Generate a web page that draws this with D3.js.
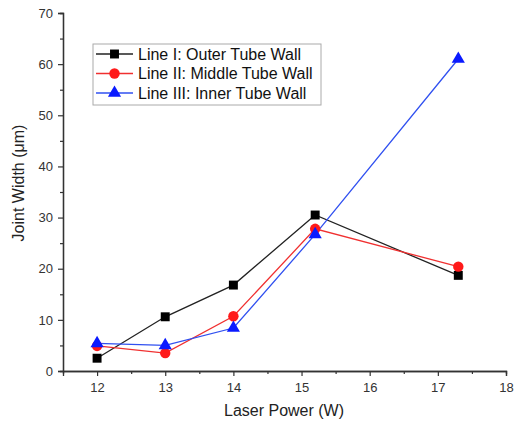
<!DOCTYPE html>
<html><head><meta charset="utf-8">
<script src="https://cdn.jsdelivr.net/npm/d3@7"></script>
<style>body{margin:0;background:#fff}svg{display:block}text{font-family:"Liberation Sans",Arial,sans-serif}</style>
</head><body>
<script>
const laserPower = [12, 13, 14, 15.2, 17.3];
const outerWall = [2.5, 10.6, 16.8, 30.5, 18.7];
const middleWall = [4.9, 3.5, 10.7, 27.8, 20.4];
const innerWall = [5.4, 5.0, 8.4, 26.7, 61.0];
const seriesNames = ["Line I: Outer Tube Wall", "Line II: Middle Tube Wall", "Line III: Inner Tube Wall"];
const xTicks = [12, 13, 14, 15, 16, 17, 18];
const yTicks = [0, 10, 20, 30, 40, 50, 60, 70];

const W = 514, H = 427;
const svg = d3.select("body").append("svg").attr("width", W).attr("height", H);
const x = d3.scaleLinear().domain([11.5, 18]).range([63, 506]);
const y = d3.scaleLinear().domain([0, 70]).range([371, 13]);

const axisColor = "#333";
// X axis
const gx = svg.append("g").attr("transform", `translate(0,${y(0)})`);
gx.call(d3.axisBottom(x).tickValues(d3.range(12.5, 18, 1)).tickSize(3).tickFormat(""));
gx.call(g => g.append("g").call(d3.axisBottom(x).tickValues(xTicks).tickSize(5).tickPadding(7).tickFormat(d3.format("d"))));
gx.selectAll("path.domain").attr("stroke", axisColor).attr("stroke-width", 1.3);
gx.selectAll("line").attr("stroke", axisColor).attr("stroke-width", 1.2);
gx.selectAll("text").attr("font-size", 13).attr("fill", "#333");
// Y axis
const gy = svg.append("g").attr("transform", `translate(${x(11.5)},0)`);
gy.call(d3.axisLeft(y).tickValues(d3.range(5, 70, 10)).tickSize(3).tickFormat(""));
gy.call(g => g.append("g").call(d3.axisLeft(y).tickValues(yTicks).tickSize(5).tickPadding(5).tickFormat(d3.format("d"))));
gy.selectAll("path.domain").attr("stroke", axisColor).attr("stroke-width", 1.3);
gy.selectAll("line").attr("stroke", axisColor).attr("stroke-width", 1.2);
gy.selectAll("text").attr("font-size", 13).attr("fill", "#333");

// Titles
svg.append("text").attr("x", 284).attr("y", 416).attr("text-anchor", "middle").attr("font-size", 16).attr("fill", "#222").text("Laser Power (W)");
svg.append("text").attr("transform", `translate(24,${183}) rotate(-90)`).attr("text-anchor", "middle").attr("font-size", 16).attr("fill", "#222").text("Joint Width (μm)");

const series = [
  {name: seriesNames[0], vals: outerWall, color: "#000000", line: "#222", sym: d3.symbolSquare, size: 80},
  {name: seriesNames[1], vals: middleWall, color: "#ff1a1a", line: "#f03030", sym: d3.symbolCircle, size: 85},
  {name: seriesNames[2], vals: innerWall, color: "#0a1aff", line: "#3050f0", sym: d3.symbolTriangle, size: 75}
];
const line = d3.line().x(d => x(d[0])).y(d => y(d[1]));
series.forEach(s => {
  const pts = laserPower.map((p, i) => [p, s.vals[i]]);
  svg.append("path").attr("d", line(pts)).attr("fill", "none").attr("stroke", s.line).attr("stroke-width", 1.3);
});
series.forEach(s => {
  const pts = laserPower.map((p, i) => [p, s.vals[i]]);
  svg.selectAll(null).data(pts).enter().append("path")
    .attr("d", d3.symbol().type(s.sym).size(s.size))
    .attr("transform", d => `translate(${x(d[0])},${y(d[1])})`)
    .attr("fill", s.color);
});

// Legend
const lg = svg.append("g");
lg.append("rect").attr("x", 93).attr("y", 44).attr("width", 228).attr("height", 61).attr("fill", "#fff").attr("stroke", "#aaa").attr("stroke-width", 1);
series.forEach((s, i) => {
  const cy = 54 + i * 19.5;
  lg.append("line").attr("x1", 96).attr("x2", 133).attr("y1", cy).attr("y2", cy).attr("stroke", s.line).attr("stroke-width", 1.3);
  lg.append("path").attr("d", d3.symbol().type(s.sym).size(s.size)).attr("transform", `translate(114.5,${cy})`).attr("fill", s.color);
  lg.append("text").attr("x", 138).attr("y", cy + 5.5).attr("font-size", 16).attr("fill", "#111").text(s.name);
});
</script>
</body></html>
